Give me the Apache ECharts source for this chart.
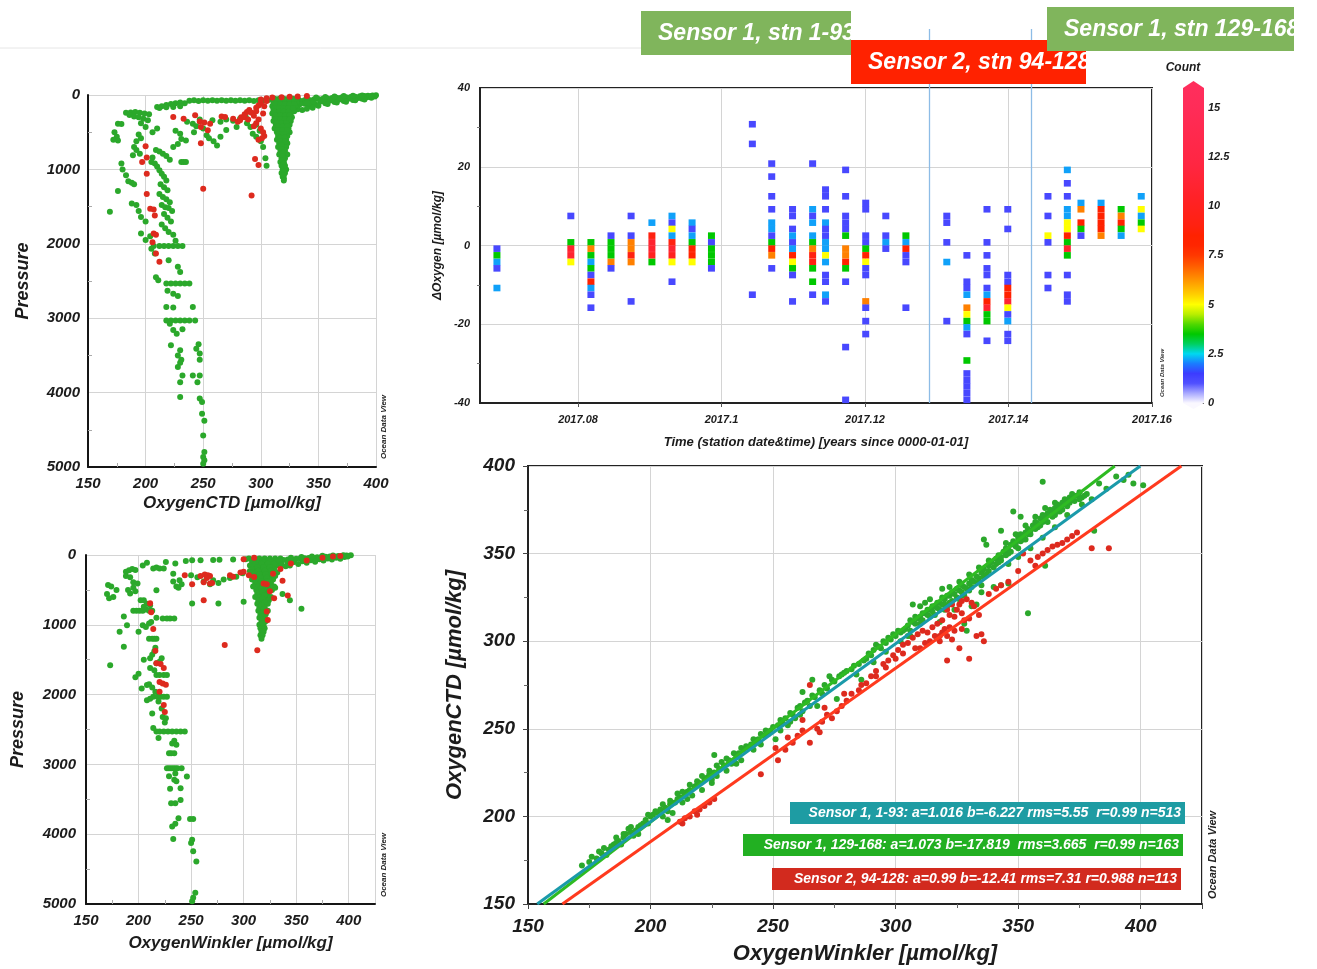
<!DOCTYPE html>
<html><head><meta charset="utf-8">
<script src="https://cdn.jsdelivr.net/npm/echarts@6/dist/echarts.min.js"></script>
<style>html,body{margin:0;padding:0;background:#fff}#c{width:1317px;height:969px}</style>
</head><body><div id="c"></div>
<script>
// ---------------- DATA ----------------
// Panel 1: OxygenCTD vs Pressure  [oxygen, pressure]
const ctdProfileSensor1 = [
[400,3],[397,6],[393,10],[390,14],[386,18],[382,22],[378,26],[374,30],[370,34],[366,38],[362,42],[358,46],[354,50],[350,55],[346,60],[342,66],[338,72],[334,78],[330,84],[326,90],
[392,30],[384,40],[376,50],[368,62],[360,74],[352,88],[344,102],[338,118],[333,135],[330,160],[332,190],[336,200],[342,150],[348,130],[356,110],[364,95],[372,80],[380,66],[388,52],[396,38],[399,20],[394,24],[386,36],[378,44],[370,56],[362,70],[354,80],[346,92],[340,106],[334,122],[331,150],[329,220],[345,170],[340,185],[358,120],[350,145],[366,100],[374,90],[382,72],[390,60],[396,12],[388,8],[380,10],[372,14],[364,20],[356,26],[348,32],[340,40],[332,48],
[310,60],[306,70],[302,78],[298,70],[294,80],[290,72],[286,78],[282,70],[278,76],[274,70],[270,78],[266,72],[262,76],[258,70],[254,78],[250,72],[246,80],[242,72],[238,78],[234,110],[230,100],[226,110],[222,120],[218,135],[214,150],[210,160],[212,175],[218,165],[224,160],[230,150],
[183,240],[187,235],[191,230],[195,240],[199,250],[203,260],[186,270],[190,290],[194,300],[198,320],[202,340],[176,385],[179,390],[173,500],[175,560],[172,600],[176,610],[196,380],[200,430],[206,500],[210,450],[194,530],[196,580],[192,620],[190,700],[192,740],[195,790],[189,810],[179,920],[180,1000],[183,1080],[176,1290],[169,1570],[185,1160],[188,1180],[190,1200],[188,1460],[192,1480],[194,1560],[196,1640],[200,1700],[204,1900],[200,1950],[196,1860],
[209,740],[212,760],[215,790],[218,820],[221,870],[206,840],[205,900],[208,920],[210,960],[212,1010],[214,1060],[216,1100],[218,1150],[213,1200],[216,1240],[219,1280],[212,1330],[215,1370],[218,1400],[221,1440],[214,1480],[217,1510],[220,1520],[223,1560],[216,1600],[219,1650],[222,1700],[214,1740],[217,1790],[220,1840],[224,1880],[226,1960],[231,900],[233,900],[235,900],[224,700],[228,660],[231,590],[230,520],[226,480],[235,610],
[236,360],[241,385],[247,330],[258,340],[265,360],[270,330],[276,345],[282,320],[287,300],[253,540],[255,580],[259,620],[262,680],[265,560],[244,420],[250,450],[296,560],[300,620],[302,700],[304,850],[305,950],[296,400],[291,430],[288,380],[299,480],[293,520],[279,430],[270,470],[242,500],
[312,50],[316,50],[320,50],[324,50],[328,50],[311,100],[315,100],[319,100],[323,100],[327,100],[331,100],[310,150],[314,150],[318,150],[322,150],[326,150],[330,150],[311,200],[315,200],[319,200],[323,200],[327,200],[310,250],[314,250],[318,250],[322,250],[326,250],[312,300],[316,300],[320,300],[324,300],[327,300],[311,350],[315,350],[319,350],[323,350],[326,350],[313,400],[317,400],[321,400],[325,400],[312,450],[316,450],[320,450],[324,450],[314,500],[318,500],[322,500],[325,500],[315,550],[319,550],[323,550],[314,600],[318,600],[322,600],[316,650],[320,650],[323,650],[315,700],[319,700],[322,700],[317,750],[321,750],[316,800],[320,800],[323,800],[318,850],[321,850],[317,900],[320,900],[318,950],[321,950],[319,1000],[322,1000],[318,1050],[321,1050],[319,1100],[320,1120],[320,1150],
[313,75],[317,75],[321,75],[325,75],[329,75],[313,125],[317,125],[321,125],[325,125],[329,125],[312,175],[316,175],[320,175],[324,175],[328,175],[312,225],[316,225],[320,225],[324,225],[313,275],[317,275],[321,275],[325,275],[313,325],[317,325],[321,325],[325,325],[314,375],[318,375],[322,375],[315,425],[319,425],[323,425],[315,475],[319,475],[323,475],[316,525],[320,525],[317,575],[321,575],[317,625],[321,625],[318,675],[318,725],[319,775],[319,825],[319,875],[320,925],[320,975],[320,1025],[320,1075],
[207,2030],[212,2030],[216,2030],[220,2030],[224,2030],[228,2030],[232,2030],[205,2065],[208,2130],[220,2220],[228,2310],[230,2380],[209,2450],[211,2490],[218,2535],[222,2535],[226,2535],[230,2535],[234,2535],[238,2535],[219,2630],[224,2670],[228,2700],[218,2850],[224,2855],[241,2850],[218,3030],[222,3030],[226,3030],[230,3030],[234,3030],[238,3030],[243,3030],[221,3075],[224,3160],[227,3210],[232,3150],[222,3365],[230,3430],[244,3410],[247,3475],[228,3500],[231,3560],[230,3600],[228,3655],[232,3770],[241,3770],[247,3770],[230,3860],[245,3860],[230,4060],[247,4080],[249,4125],[249,4285],[251,4380],[250,4575],[251,4800],[250,4865],[251,4910],[250,4955],[246,3350],[247,3560]
];
const ctdProfileSensor2 = [
[224,296],[233,318],[243,273],[247,355],[251,370],[256,385],[248,430],[254,475],[248,650],[266,290],[269,295],[276,320],[280,360],[283,300],[286,260],[288,230],[290,200],[292,240],[294,280],[296,170],[298,140],[300,110],[298,330],[296,380],[294,420],[300,60],[305,45],[310,35],[318,30],[325,25],[332,20],[340,15],[300,450],[302,500],[303,550],[301,580],[298,600],[295,860],[298,940],[292,1350],[250,1260],[200,690],[197,900],[201,840],[201,1060],[201,1330],[204,1530],[207,1540],[208,1620],[207,1860],[209,1880],[206,1980],[209,2130],[212,2240],[286,300],[289,330],[296,220],[282,340],[305,80],[303,150],[302,250]
];
// Panel 2: OxygenWinkler vs Pressure  [oxygen, pressure]
const winklerProfileSensor1 = [
[251,4960],[252,4910],[254,4840],[255,4390],[252,4245],[250,4127],[251,4080],[233,4070],[252,3784],[249,3784],[238,3770],[235,3850],[232,3890],[235,3555],[240,3510],[231,3555],[240,3340],[230,3350],[246,3174],[235,3130],[227,3055],[229,3055],[231,3055],[233,3055],[235,3055],[237,3055],[241,3055],[229,3170],[234,3220],[236,3240],[229,2840],[231,2840],[234,2840],[232,2700],[234,2660],[236,2720],[217,2530],[220,2530],[224,2530],[228,2530],[232,2530],[236,2530],[240,2530],[244,2530],[214,2480],[219,2620],[223,2320],[226,2340],[213,2270],[214,2030],[218,2030],[221,2030],[224,2030],[227,2030],[208,2080],[211,2060],[203,1911],[208,1864],[217,1720],[220,1720],[224,1720],[227,1720],[197,1750],[200,1700],[217,1550],[220,1530],[222,1480],[173,1578],[211,1480],[213,1430],[215,1380],[216,1330],[186,1315],[210,1200],[213,1200],[215,1200],[217,1200],[182,1100],[189,1005],[204,1005],[207,1030],[210,980],[212,960],[195,800],[198,800],[201,800],[204,800],[207,780],[210,800],[213,800],[223,910],[227,910],[230,910],[234,910],[217,900],[202,650],[205,650],[208,700],[211,720],[205,740],[190,500],[192,550],[195,470],[197,520],[171,430],[174,450],[179,500],[170,560],[176,600],[172,620],[188,240],[191,220],[194,200],[197,215],[188,300],[192,320],[195,390],[199,410],[204,150],[214,195],[217,180],[220,195],[224,195],[217,505],[233,380],[239,360],[241,420],[236,450],[238,470],[251,695],[233,267],[245,85],[251,75],[259,75],[271,70],[277,68],[290,65],[302,62],[315,60],[320,58],[250,290],[256,320],[262,380],[268,420],[271,360],[276,400],[281,350],[287,330],[293,310],[299,260],[306,230],[276,695],[300,670],[344,650],[355,770],[337,560],[330,470],[208,110],[226,100],[235,120],[186,880],[200,1100],[205,1500],[211,1620],[215,1650],[210,1850],[213,1900],[216,1960],[219,2100],[222,2200],[225,2400],
[305,50],[310,50],[315,50],[320,50],[325,50],[330,50],[335,50],[308,100],[313,100],[318,100],[323,100],[328,100],[333,100],[306,150],[311,150],[316,150],[321,150],[326,150],[331,150],[309,200],[314,200],[319,200],[324,200],[329,200],[307,250],[312,250],[317,250],[322,250],[327,250],[332,250],[310,300],[315,300],[320,300],[325,300],[330,300],[308,350],[313,350],[318,350],[323,350],[328,350],[311,400],[316,400],[321,400],[326,400],[309,450],[314,450],[319,450],[324,450],[329,450],[312,500],[317,500],[322,500],[327,500],[313,550],[318,550],[323,550],[311,600],[316,600],[321,600],[326,600],[314,650],[319,650],[324,650],[313,700],[318,700],[323,700],[315,750],[320,750],[314,800],[319,800],[323,800],[316,850],[321,850],[315,900],[320,900],[317,950],[321,950],[315,1000],[319,1000],[316,1050],[320,1050],[317,1100],[319,1100],[316,1150],[318,1150],[317,1200],
[312,75],[318,75],[324,75],[330,75],[311,125],[317,125],[323,125],[329,125],[313,175],[319,175],[325,175],[314,225],[320,225],[326,225],[315,275],[321,275],[327,275],[316,325],[322,325],[317,375],[323,375],[318,425],[322,425],[317,475],[321,475],[318,525],[320,575],[318,625],[320,675],[317,725],[319,775],[318,825],[318,875],[318,925],[318,975],
[402,5],[398,8],[394,12],[390,15],[386,18],[382,22],[378,26],[374,30],[370,34],[366,38],[362,42],[358,46],[354,50],[350,55],[346,60],[342,66],[338,72],[334,78],[396,30],[388,40],[380,50],[372,62],[364,74],[356,88],[348,102],[342,118],[336,135],[340,160],[344,150],[352,130],[360,110],[368,95],[376,80],[384,66],[392,52],[399,20],[345,40],[355,30],[365,20],[375,12],[385,8],[395,4]
];
const winklerProfileSensor2 = [
[244,290],[251,420],[259,300],[263,280],[266,290],[268,300],[265,330],[262,390],[268,410],[262,650],[287,290],[290,310],[297,250],[300,240],[305,290],[310,315],[319,410],[328,270],[322,420],[325,520],[329,620],[337,370],[342,580],[322,810],[323,930],[313,1365],[282,1290],[211,690],[212,820],[214,1060],[216,1370],[217,1550],[221,1560],[224,1620],[220,1820],[223,1840],[226,1860],[220,1960],[224,2150],[225,2250],[335,200],[345,120],[360,80],[375,40],[385,20],[392,15],[300,60],[310,40],[270,400]
];
// Panel 3: ΔOxygen binned by station time; each cell [ΔOxygen, count]
const tsTimes = [2017.0687,2017.0790,2017.0818,2017.0846,2017.0874,2017.0903,2017.0931,2017.0959,2017.0986,2017.1043,2017.1070,2017.1099,2017.1127,2017.1145,2017.1173,2017.1201,2017.1229,2017.1257,2017.1314,2017.1342,2017.1370,2017.1399,2017.1455,2017.1482,2017.1501,2017.1529,2017.1557,2017.1585];
const tsCells = [
[[-0.8,1.2],[-2.5,3.5],[-4.2,2.2],[-5.8,1.2],[-10.8,2.2]],
[[7.5,1.2],[0.8,3.5],[-0.8,11],[-2.5,11],[-4.2,5]],
[[0.8,3.5],[-0.8,6.5],[-2.5,3.5],[-4.2,2.2],[-5.8,3.5],[-7.5,1.2],[-9.2,8.5],[-10.8,2.2],[-12.5,1.2],[-15.8,1.2]],
[[2.5,1.2],[0.8,3.5],[-0.8,3.5],[-2.5,3.5],[-4.2,6.5],[-5.8,1.2]],
[[7.5,1.2],[2.5,1.2],[0.8,6.5],[-0.8,6.5],[-2.5,9],[-4.2,6.5],[-14.2,1.2]],
[[5.8,2.2],[2.5,9],[0.8,11],[-0.8,11],[-2.5,10],[-4.2,3.5]],
[[7.5,2.2],[5.8,1.2],[4.2,5],[2.5,2.2],[0.8,9],[-0.8,11],[-2.5,10],[-4.2,5],[-9.2,1.2]],
[[5.8,2.2],[4.2,1.2],[2.5,2.2],[0.8,3.5],[-0.8,8.5],[-2.5,8.5],[-4.2,5]],
[[2.5,3.5],[0.8,1.2],[-0.8,3.5],[-2.5,3.5],[-4.2,3.5],[-5.8,1.2]],
[[30.8,1.2],[25.8,1.2],[-12.5,1.2]],
[[20.8,1.2],[17.5,1.2],[12.5,1.2],[9.2,1.2],[5.8,2.2],[4.2,2.2],[2.5,1.2],[0.8,3.5],[-0.8,8.5],[-2.5,6.5],[-5.8,1.2]],
[[9.2,1.2],[7.5,1.2],[4.2,1.2],[2.5,2.2],[0.8,1.2],[-0.8,2.2],[-2.5,8.5],[-4.2,5],[-5.8,3.5],[-7.5,1.2],[-14.2,1.2]],
[[20.8,1.2],[9.2,2.2],[7.5,1.2],[5.8,2.2],[2.5,2.2],[0.8,3.5],[-0.8,6.5],[-2.5,9],[-4.2,9],[-5.8,3.5],[-9.2,3.5],[-12.5,1.2]],
[[14.2,1.2],[12.5,1.2],[9.2,1.2],[5.8,2.2],[4.2,1.2],[2.5,1.2],[0.8,2.2],[-0.8,2.2],[-2.5,5],[-4.2,2.2],[-7.5,1.2],[-9.2,1.2],[-12.5,2.2],[-14.2,1.2]],
[[19.2,1.2],[12.5,1.2],[7.5,1.2],[5.8,1.2],[4.2,1.2],[2.5,3.5],[-0.8,6.5],[-2.5,6.5],[-4.2,8.5],[-5.8,3.5],[-9.2,1.2],[-25.8,1.2],[-39.2,1.2]],
[[10.8,1.2],[9.2,1.2],[2.5,1.2],[0.8,1.2],[-0.8,3.5],[-2.5,8.5],[-4.2,5],[-5.8,1.2],[-7.5,1.2],[-14.2,6.5],[-15.8,1.2],[-19.2,1.2],[-22.5,1.2]],
[[7.5,1.2],[2.5,1.2],[0.8,2.2],[-0.8,1.2]],
[[2.5,3.5],[0.8,2.2],[-0.8,8.5],[-2.5,1.2],[-4.2,1.2],[-15.8,1.2]],
[[7.5,1.2],[5.8,1.2],[0.8,1.2],[-4.2,2.2],[-19.2,1.2]],
[[-2.5,1.2],[-9.2,1.2],[-10.8,1.2],[-12.5,2.2],[-15.8,6.5],[-17.5,5],[-19.2,3.5],[-20.8,2.2],[-22.5,1.2],[-29.2,3.5],[-32.5,1.2],[-34.2,1.2],[-35.8,1.2],[-37.5,1.2],[-39.2,1.2]],
[[9.2,1.2],[0.8,1.2],[-2.5,1.2],[-5.8,1.2],[-7.5,1.2],[-10.8,1.2],[-12.5,2.2],[-14.2,8.5],[-15.8,11],[-17.5,3.5],[-19.2,3.5],[-24.2,1.2]],
[[9.2,1.2],[4.2,1.2],[-7.5,1.2],[-9.2,1.2],[-10.8,8.5],[-12.5,8.5],[-14.2,11],[-15.8,5],[-17.5,1.2],[-19.2,2.2],[-22.5,1.2],[-24.2,1.2]],
[[12.5,1.2],[7.5,1.2],[2.5,5],[0.8,1.2],[-7.5,1.2],[-10.8,1.2]],
[[19.2,2.2],[15.8,1.2],[12.5,1.2],[9.2,2.2],[7.5,2.2],[5.8,5],[4.2,5],[2.5,8.5],[0.8,3.5],[-0.8,11],[-2.5,3.5],[-7.5,1.2],[-12.5,1.2],[-14.2,1.2]],
[[10.8,2.2],[9.2,6.5],[5.8,8.5],[4.2,3.5],[2.5,1.2]],
[[10.8,2.2],[9.2,8.5],[7.5,8.5],[5.8,8.5],[4.2,8.5],[2.5,6.5]],
[[9.2,3.5],[7.5,6.5],[5.8,8.5],[4.2,3.5],[2.5,2.2]],
[[12.5,2.2],[9.2,5],[7.5,2.2],[5.8,3.5],[4.2,5]]
];
const sensorChangeTimes = [2017.129, 2017.1432];
const tsXTicks = [2017.08, 2017.1, 2017.12, 2017.14, 2017.16];
const countTicks = [0, 2.5, 5, 7.5, 10, 12.5, 15];
// Panel 4: OxygenWinkler vs OxygenCTD  [winkler, ctd]
const scatterSensor1 = [
[172,172],[175,174],[178,176],[180,179],[183,181],[185,184],[187,186],[189,188],[190,190],[192,191],[194,192],[195,194],[197,196],[198,198],[200,200],[199,196],[188,184],[186,188],[191,193],[193,189],
[201,201],[203,202],[204,204],[206,205],[207,203],[208,207],[210,208],[211,210],[212,211],[214,212],[215,214],[216,215],[218,217],[219,218],[220,219],[222,221],[223,222],[224,224],[226,225],[227,223],[228,227],[230,229],[232,232],[233,230],[235,234],[236,236],[238,238],[240,239],[241,241],[243,242],[244,244],[246,246],[248,247],[249,249],[250,251],[252,252],[254,253],[209,202],[213,208],[217,212],[221,215],[225,219],[231,226],[237,232],[242,238],[207,198],[226,235],
[176,177],[179,180],[181,182],[184,183],[186,185],[189,190],[192,194],[196,195],[199,201],[202,203],[205,207],[208,209],[211,213],[213,214],[216,218],[219,220],[221,223],[224,226],[227,229],[229,231],[231,233],[234,236],[237,239],[239,240],[242,244],[245,247],[247,249],[205,200],[215,210],[225,221],[235,230],[245,241],[195,190],[182,178],
[255,256],[257,254],[258,258],[260,262],[262,260],[264,266],[265,263],[267,268],[270,270],[272,273],[273,280],[275,277],[276,267],[278,281],[280,283],[282,284],[285,287],[286,278],[288,290],[290,292],[292,298],[294,296],[296,299],[298,301],[253,249],[256,252],[259,256],[261,258],[251,244],
[253,255],[257,259],[261,263],[263,265],[266,269],[269,272],[271,275],[274,278],[277,280],[279,282],[283,286],[287,289],[289,293],[291,295],[293,297],[295,300],[297,302],[299,304],[268,263],[284,281],[291,288],[296,294],[266,278],[262,271],
[300,303],[302,305],[304,307],[305,309],[306,306],[307,311],[308,310],[309,313],[310,314],[311,312],[312,316],[313,315],[314,318],[315,317],[316,320],[317,319],[318,322],[319,321],[320,324],[321,320],[322,326],[323,323],[324,327],[325,325],[326,329],[327,328],[328,331],[329,330],[330,333],[307,321],[316,315],[320,318],[328,310],[329,306],[333,321],[324,318],[318,311],
[301,306],[303,306],[305,303],[306,312],[308,314],[310,310],[311,316],[313,318],[314,314],[315,320],[317,322],[318,318],[319,325],[320,321],[321,326],[322,322],[323,328],[325,330],[326,324],[327,332],[328,326],[330,329],[331,331],[332,334],[334,336],[335,332],[336,337],[338,340],[310,320],[312,322],[314,324],[319,330],[322,331],[326,334],[330,338],[334,342],[338,346],[302,300],[306,303],[331,320],[335,328],
[331,335],[333,337],[334,334],[335,339],[336,341],[337,338],[338,343],[339,345],[340,342],[341,347],[342,349],[343,346],[344,351],[345,353],[346,350],[347,355],[348,357],[349,354],[350,359],[351,361],[352,358],[353,362],[354,364],[355,361],[356,366],[357,368],[358,365],[359,370],[360,372],[361,369],[362,373],[363,375],[364,371],[365,376],[366,378],[367,374],[368,379],[369,381],[370,377],[371,382],[372,384],[373,380],[374,383],[375,385],[376,382],[378,384],[380,381],[343,363],[337,355],[336,358],[340,331],[343,332],[346,333],[361,343],[354,316],[348,374],[351,371],[381,363],[360,391],[390,394],[393,392],[395,395],[397,390],[401,389],[386,387],[383,390],
[341,344],[342,345],[343,348],[345,349],[346,352],[347,351],[349,356],[350,353],[351,357],[352,360],[353,358],[354,361],[355,363],[357,364],[358,367],[359,366],[360,368],[361,371],[362,368],[364,374],[365,372],[366,374],[367,377],[368,375],[369,378],[370,380],[371,379],[372,381],[373,383],[375,381],[377,383],[345,356],[349,361],[353,366],[357,371],[361,376],[365,379],[346,344],[350,348],[355,353],[360,359],[365,365],[370,372],[376,378]
];
const scatterSensor2 = [
[212,197],[214,199],[216,200],[218,203],[220,204],[222,206],[224,208],[226,210],[213,196],[219,201],[245,224],[252,232],[251,239],[255,238],[258,242],[260,246],[262,249],[265,242],[265,275],[268,250],[270,254],[272,258],[274,256],[276,260],[278,263],[280,266],[282,270],[285,272],[288,276],[290,280],[292,283],[295,287],[297,289],[299,292],[301,295],[303,298],[305,299],[307,302],[309,304],[311,306],[313,305],[315,308],[317,310],[318,303],[319,312],[320,307],[321,289],[322,315],[324,314],[325,318],[326,321],[327,316],[329,324],[330,290],[331,322],[333,303],[335,304],[336,300],[338,327],[341,330],[343,332],[346,334],[350,340],[352,350],[355,346],[358,348],[360,350],[362,352],[364,354],[366,355],[368,356],[370,358],[372,360],[374,362],[380,353],[387,353],[357,343],
[318,300],[319,305],[321,303],[322,308],[323,301],[324,306],[316,303],[314,300],[312,299],[310,296],[327,307],[328,312],[326,296],[330,313],[334,315],[332,320],[321,318],[323,321],[327,323],[308,296],[303,293],[300,290],[296,285],[292,280],[286,275],[279,270],[271,262],[269,248],[262,255],[256,245]
];
const fitLabels = ['Sensor 1, 1-93: a=1.016 b=-6.227 rms=5.55  r=0.99 n=513','Sensor 1, 129-168: a=1.073 b=-17.819  rms=3.665  r=0.99 n=163','Sensor 2, 94-128: a=0.99 b=-12.41 rms=7.31 r=0.988 n=113'];
const fitA = [1.016, 1.073, 0.99];
const fitB = [-6.227, -17.819, -12.41];

// ---------------- STYLE ----------------
const F = "'Liberation Sans', Arial, sans-serif";
const FN = "'Liberation Sans Narrow', 'Arial Narrow', 'Liberation Sans', sans-serif";
const GREEN = '#2BA82B', RED = '#DD2A1E';
const fitColors = ['#1A9AAA', '#2EBB22', '#FF3A1E'];
const boxColors = ['#1E9CA3', '#22B022', '#D22A1E'];
const cmap = ['#FAF8FF','#A8A8FF','#5050FF','#3C3CFF','#1A7CFF','#00D8F0','#00D060','#00C800','#50D800','#B8EE00','#FFFF00','#FFD000','#FFA800','#FF8000','#FF5A00','#FF3800','#FF2600','#FF2200','#FF2210','#FF2218','#FF2220','#FF2228','#FF2430','#FF2538','#FF2640','#FF2745','#FF2848','#FF294C','#FF2A50','#FF2B54','#FF2C58','#FF2D5A','#FF2E5C'];
function txt(size, fam, extra) { return Object.assign({fontFamily: fam || F, fontStyle:'italic', fontWeight:'bold', fontSize:size, color:'#1c1c1c'}, extra || {}); }
const gridLine = {show:true, lineStyle:{color:'#d4d4d4', width:1}};
const blackLine = {show:true, onZero:false, lineStyle:{color:'#151515', width:2}};

const tsData = [];
tsTimes.forEach((t, i) => tsCells[i].forEach(c => tsData.push([t, c[0], c[1]])));
const fitLines = fitA.map((a, i) => [[(150 - fitB[i]) / a, 150], [(400 - fitB[i]) / a, 400]]);

function profileX(gi, max, name, nameGap) {
  return {gridIndex:gi, type:'value', min:150, max:max, interval:50, axisLine:blackLine,
    axisTick:{show:false, inside:true}, minorTick:{show:true, splitNumber:2, length:4, lineStyle:{color:'#aaa'}},
    splitLine:gridLine, axisLabel:txt(15, F, {margin:9, formatter: v => v > 400 ? '' : String(v)}),
    name:name, nameLocation:'middle', nameGap:nameGap, nameTextStyle:txt(17)};
}
function profileY(gi, nameGap, margin) {
  return {gridIndex:gi, type:'value', inverse:true, min:0, max:5000, interval:1000, axisLine:blackLine,
    axisTick:{show:false, inside:true}, minorTick:{show:true, splitNumber:2, length:4, lineStyle:{color:'#aaa'}},
    splitLine:gridLine, axisLabel:txt(15, F, {margin:margin, formatter: v => String(v)}),
    name:'Pressure', nameLocation:'middle', nameGap:nameGap, nameTextStyle:txt(18)};
}
const tsMin = 2017.06634, tsMax = 2017.16;
const boxFont = "italic bold 23px 'Liberation Sans', Arial";
const legFont = "italic bold 14px 'Liberation Sans', Arial";

const option = {
  animation:false,
  backgroundColor:'#ffffff',
  grid:[
    {left:88, top:95, width:288, height:372, outerBoundsMode:'none'},
    {left:86, top:555, width:289, height:349, outerBoundsMode:'none'},
    {left:480, top:88, width:672, height:315, show:true, borderColor:'#222', borderWidth:2, outerBoundsMode:'none'},
    {left:528, top:466, width:674, height:438, show:true, borderColor:'#222', borderWidth:2, outerBoundsMode:'none'},
    {left:1183, top:88, width:21, height:315, outerBoundsMode:'none'},
    {left:480, top:29, width:672, height:59, outerBoundsMode:'none'}
  ],
  xAxis:[
    profileX(0, 400, 'OxygenCTD [µmol/kg]', 28),
    profileX(1, 425, 'OxygenWinkler [µmol/kg]', 31),
    {gridIndex:2, type:'value', min:tsMin, max:tsMax, axisLine:{show:true, onZero:false, lineStyle:{color:'#222', width:2}},
      axisTick:{show:true, length:4, customValues:tsXTicks, lineStyle:{color:'#555'}},
      splitLine:gridLine,
      axisLabel:txt(11, FN, {margin:11, customValues:tsXTicks, formatter: v => String(+(+v).toFixed(2))}),
      name:'Time (station date&time) [years since 0000-01-01]', nameLocation:'middle', nameGap:33, nameTextStyle:txt(13, FN)},
    {gridIndex:3, type:'value', min:150, max:425, interval:50, axisLine:{show:true, onZero:false, lineStyle:{color:'#222', width:2}},
      axisTick:{show:true, length:5, lineStyle:{color:'#444'}}, minorTick:{show:true, splitNumber:2, length:4, lineStyle:{color:'#666'}},
      splitLine:gridLine, axisLabel:txt(19, F, {margin:13, formatter: v => v > 400 ? '' : String(v)}),
      name:'OxygenWinkler [µmol/kg]', nameLocation:'middle', nameGap:39, nameTextStyle:txt(22)},
    {gridIndex:4, type:'category', data:['Count'], show:false},
    {gridIndex:5, type:'value', min:tsMin, max:tsMax, show:false}
  ],
  yAxis:[
    profileY(0, 56, 8),
    profileY(1, 59, 10),
    {gridIndex:2, type:'value', min:-40, max:40, interval:20, axisLine:{show:true, onZero:false, lineStyle:{color:'#222', width:2}},
      axisTick:{show:false}, minorTick:{show:true, splitNumber:2, length:3, lineStyle:{color:'#777'}},
      splitLine:gridLine, axisLabel:txt(11, FN, {margin:10}),
      name:'ΔOxygen [µmol/kg]', nameLocation:'middle', nameGap:34, nameTextStyle:txt(12)},
    {gridIndex:3, type:'value', min:150, max:400, interval:50, axisLine:{show:true, onZero:false, lineStyle:{color:'#222', width:2}},
      axisTick:{show:true, length:5, lineStyle:{color:'#444'}}, minorTick:{show:true, splitNumber:2, length:4, lineStyle:{color:'#666'}},
      splitLine:gridLine, axisLabel:txt(19, F, {margin:13}),
      name:'OxygenCTD [µmol/kg]', nameLocation:'middle', nameGap:62, nameTextStyle:txt(22)},
    {gridIndex:4, type:'value', min:0, max:16, position:'right', axisLine:{show:false},
      axisTick:{show:true, inside:true, length:4, customValues:countTicks, lineStyle:{color:'#444'}},
      splitLine:{show:false}, axisLabel:txt(11, FN, {margin:4, customValues:countTicks})},
    {gridIndex:5, type:'value', min:0, max:1, show:false}
  ],
  visualMap:{type:'continuous', min:0, max:16, dimension:2, seriesIndex:4, show:false, inRange:{color:cmap}},
  series:[
    {type:'scatter', xAxisIndex:0, yAxisIndex:0, data:ctdProfileSensor1, symbolSize:6, itemStyle:{color:GREEN, opacity:1}, z:2},
    {type:'scatter', xAxisIndex:0, yAxisIndex:0, data:ctdProfileSensor2, symbolSize:6, itemStyle:{color:RED, opacity:1}, z:3},
    {type:'scatter', xAxisIndex:1, yAxisIndex:1, data:winklerProfileSensor1, symbolSize:6, itemStyle:{color:GREEN, opacity:1}, z:2},
    {type:'scatter', xAxisIndex:1, yAxisIndex:1, data:winklerProfileSensor2, symbolSize:6, itemStyle:{color:RED, opacity:1}, z:3},
    {type:'scatter', xAxisIndex:2, yAxisIndex:2, data:tsData, symbol:'rect', symbolSize:[7, 6.6], itemStyle:{opacity:1}, z:4},
    {type:'lines', coordinateSystem:'cartesian2d', xAxisIndex:2, yAxisIndex:2, data:sensorChangeTimes.map(t => ({coords:[[t, -40], [t, 40]]})), lineStyle:{color:'#8DBCE6', width:1.3, opacity:1}, z:3},
    {type:'lines', coordinateSystem:'cartesian2d', xAxisIndex:5, yAxisIndex:5, data:sensorChangeTimes.map(t => ({coords:[[t, 0], [t, 1]]})), lineStyle:{color:'#8DBCE6', width:1.3, opacity:1}, z:3},
    {type:'scatter', xAxisIndex:3, yAxisIndex:3, data:scatterSensor1, symbolSize:6, itemStyle:{color:GREEN, opacity:1}, z:2},
    {type:'scatter', xAxisIndex:3, yAxisIndex:3, data:scatterSensor2, symbolSize:6, itemStyle:{color:RED, opacity:1}, z:2},
    {type:'line', xAxisIndex:3, yAxisIndex:3, data:fitLines[1], showSymbol:false, symbol:'none', lineStyle:{color:fitColors[1], width:3}, z:5},
    {type:'line', xAxisIndex:3, yAxisIndex:3, data:fitLines[0], showSymbol:false, symbol:'none', lineStyle:{color:fitColors[0], width:3}, z:6},
    {type:'line', xAxisIndex:3, yAxisIndex:3, data:fitLines[2], showSymbol:false, symbol:'none', lineStyle:{color:fitColors[2], width:3}, z:5},
    {type:'bar', xAxisIndex:4, yAxisIndex:4, data:[16], barWidth:'100%',
      itemStyle:{color:{type:'linear', x:0, y:1, x2:0, y2:0, colorStops:cmap.map((c, i) => ({offset:i / (cmap.length - 1), color:c}))}},
      markPoint:{silent:true, label:{show:false}, data:[
        {coord:['Count', 16], symbol:'triangle', symbolSize:[21, 7], symbolOffset:[0, '-50%'], itemStyle:{color:cmap[cmap.length - 1]}},
        {coord:['Count', 0], symbol:'triangle', symbolRotate:180, symbolSize:[21, 6], symbolOffset:[0, '50%'], itemStyle:{color:cmap[0]}}
      ]}, z:2}
  ],
  graphic:[
    {type:'line', shape:{x1:0, y1:48, x2:641, y2:48}, style:{stroke:'#e6e6e6', lineWidth:1}, z:50},
    {type:'rect', shape:{x:641, y:11, width:210, height:44}, style:{fill:'#80B55C'}, z:100},
    {type:'text', x:658, y:34, style:{text:'Sensor 1, stn 1-93', fill:'#fff', font:boxFont, verticalAlign:'middle'}, z:101},
    {type:'rect', shape:{x:851, y:40, width:235, height:44}, style:{fill:'#FF2200'}, z:102},
    {type:'text', x:868, y:63, style:{text:'Sensor 2, stn 94-128', fill:'#fff', font:boxFont, verticalAlign:'middle'}, z:103},
    {type:'rect', shape:{x:1047, y:7, width:247, height:44}, style:{fill:'#80B55C'}, z:104},
    {type:'text', x:1064, y:30, style:{text:'Sensor 1, stn 129-168', fill:'#fff', font:boxFont, verticalAlign:'middle'}, z:105},
    {type:'text', x:1183, y:68, style:{text:'Count', fill:'#1c1c1c', font:"italic bold 12px 'Liberation Sans', Arial", align:'center', verticalAlign:'middle'}, z:100},
    {type:'rect', shape:{x:790, y:802, width:395, height:22}, style:{fill:boxColors[0]}, z:100},
    {type:'text', x:1181, y:813, style:{text:fitLabels[0], fill:'#fff', font:legFont, align:'right', verticalAlign:'middle'}, z:101},
    {type:'rect', shape:{x:743, y:834, width:440, height:22}, style:{fill:boxColors[1]}, z:100},
    {type:'text', x:1179, y:845, style:{text:fitLabels[1], fill:'#fff', font:legFont, align:'right', verticalAlign:'middle'}, z:101},
    {type:'rect', shape:{x:772, y:868, width:409, height:22}, style:{fill:boxColors[2]}, z:100},
    {type:'text', x:1177, y:879, style:{text:fitLabels[2], fill:'#fff', font:legFont, align:'right', verticalAlign:'middle'}, z:101},
    {type:'text', x:384, y:427, rotation:Math.PI / 2, style:{text:'Ocean Data View', fill:'#222', font:"italic bold 8px 'Liberation Sans', Arial", align:'center', verticalAlign:'middle'}, z:100},
    {type:'text', x:384, y:865, rotation:Math.PI / 2, style:{text:'Ocean Data View', fill:'#222', font:"italic bold 8px 'Liberation Sans', Arial", align:'center', verticalAlign:'middle'}, z:100},
    {type:'text', x:1162, y:373, rotation:Math.PI / 2, style:{text:'Ocean Data View', fill:'#333', font:"italic bold 6px 'Liberation Sans', Arial", align:'center', verticalAlign:'middle'}, z:100},
    {type:'text', x:1213, y:855, rotation:Math.PI / 2, style:{text:'Ocean Data View', fill:'#222', font:"italic bold 11px 'Liberation Sans', Arial", align:'center', verticalAlign:'middle'}, z:100}
  ]
};
const chart = echarts.init(document.getElementById('c'), null, {renderer:'canvas'});
chart.setOption(option);
</script></body></html>
